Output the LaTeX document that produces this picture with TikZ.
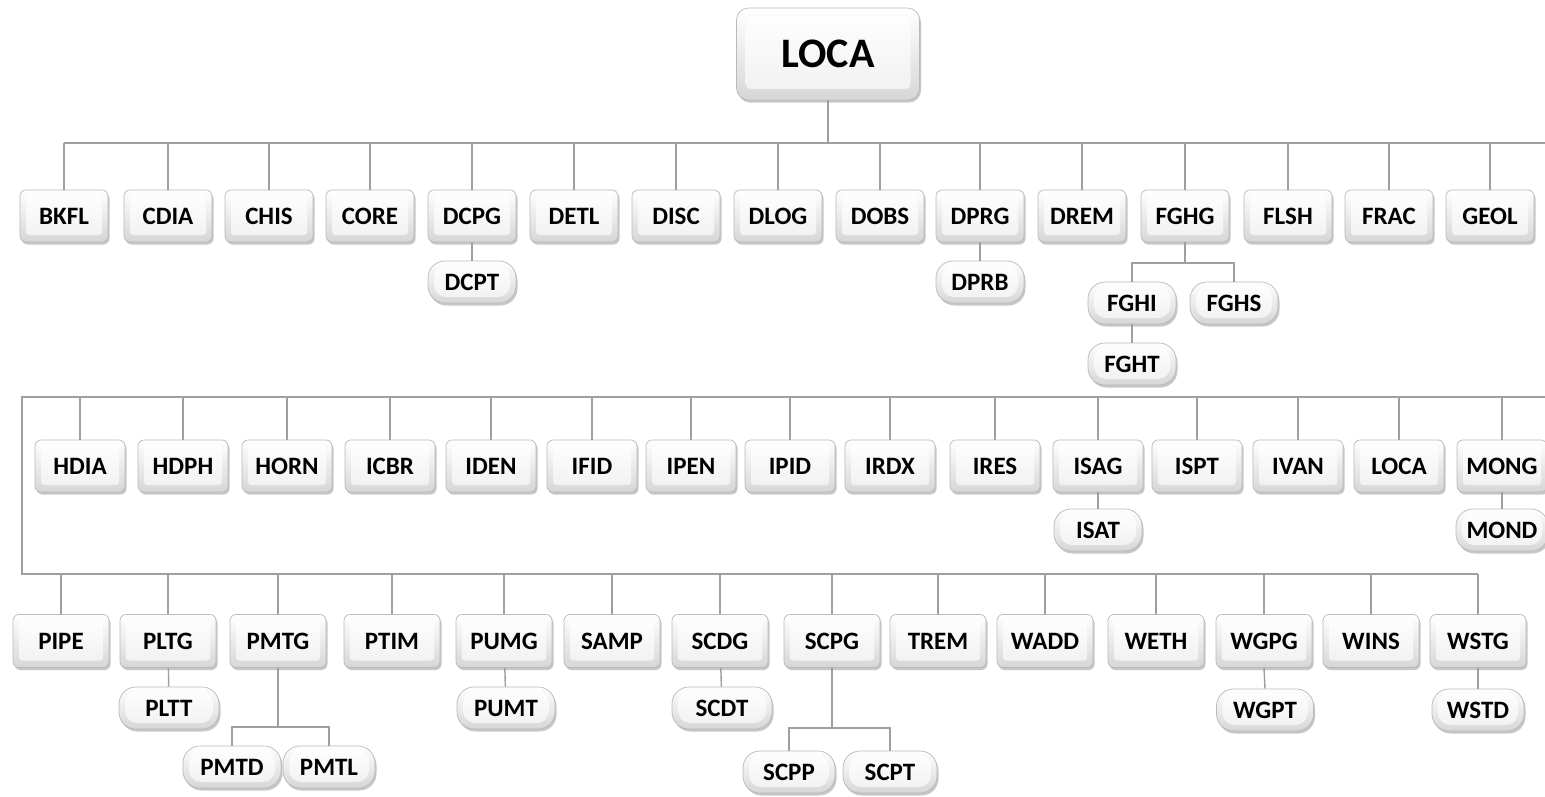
\documentclass[tikz,border=0pt]{standalone}
\usepackage{fontspec}
\setmainfont{Carlito}
\usetikzlibrary{shadows}
\tikzset{
  boxbase/.style={draw=gray!55, line width=0.7pt, top color=white, bottom color=gray!32,
    font=\fontsize{25}{27}\selectfont\bfseries, text height=16pt, text depth=0pt,
    inner sep=0pt, align=center,
    drop shadow={shadow xshift=1.5pt, shadow yshift=-2.5pt, fill=black, opacity=0.22},
    path picture={\shade[top color=white, bottom color=gray!12, rounded corners=3pt]
      ([shift={(6pt,-5pt)}]path picture bounding box.north west) rectangle
      ([shift={(-6pt,7pt)}]path picture bounding box.south east);}},
  boxa/.style={boxbase, rounded corners=6pt, minimum width=88pt, minimum height=52pt},
  boxb/.style={boxbase, rounded corners=6pt, minimum width=90pt, minimum height=52pt},
  boxc/.style={boxbase, rounded corners=6pt, minimum width=96pt, minimum height=53pt},
  subbox/.style={boxbase, rounded corners=17pt, minimum width=#1, minimum height=42pt,
    path picture={\shade[top color=white, bottom color=gray!12, rounded corners=12pt]
      ([shift={(6pt,-4pt)}]path picture bounding box.north west) rectangle
      ([shift={(-6pt,6pt)}]path picture bounding box.south east);}},
  subbox/.default=88pt,
  rootbox/.style={boxbase, rounded corners=12pt, minimum width=183pt, minimum height=92pt,
    font=\fontsize{42}{44}\selectfont\bfseries, text height=27pt,
    path picture={\shade[top color=white, bottom color=gray!12, rounded corners=5pt]
      ([shift={(9pt,-8pt)}]path picture bounding box.north west) rectangle
      ([shift={(-9pt,11pt)}]path picture bounding box.south east);}},
  conn/.style={draw=gray!75, line width=1.4pt}
}
\begin{document}
\begin{tikzpicture}[x=1pt,y=-1pt]
\useasboundingbox (0,0) rectangle (1545,796);
\clip (0,0) rectangle (1545,796);
\fill[white] (0,0) rectangle (1545,796);

% bus coordinates
\coordinate (bus1) at (828,143);
\coordinate (bus1r) at (1560,143);
\coordinate (bus2l) at (22,397);
\coordinate (bus2r) at (1560,397);
\coordinate (bus3l) at (22,574);

% root
\node[rootbox] (root) at (828,54) {LOCA};

% row 1
\foreach \n/\t/\x in {bkfl/BKFL/64, cdia/CDIA/168, chis/CHIS/269, core/CORE/370, dcpg/DCPG/472,
  detl/DETL/574, disc/DISC/676, dlog/DLOG/778, dobs/DOBS/880, dprg/DPRG/980,
  drem/DREM/1082, fghg/FGHG/1185, flsh/FLSH/1288, frac/FRAC/1389, geol/GEOL/1490}
  {\node[boxa] (\n) at (\x,216) {\t};}
\node[subbox] (dcpt) at (472,282) {DCPT};
\node[subbox] (dprb) at (980,282) {DPRB};
\node[subbox] (fghi) at (1132,303) {FGHI};
\node[subbox] (fghs) at (1234,303) {FGHS};
\node[subbox] (fght) at (1132,364) {FGHT};
\coordinate (fghj) at (1185,263);

% row 2
\foreach \n/\t/\x in {hdia/HDIA/80, hdph/HDPH/183, horn/HORN/287, icbr/ICBR/390, iden/IDEN/491,
  ifid/IFID/592, ipen/IPEN/691, ipid/IPID/790, irdx/IRDX/890, ires/IRES/995,
  isag/ISAG/1098, ispt/ISPT/1197, ivan/IVAN/1298, loca2/LOCA/1399, mong/MONG/1502}
  {\node[boxb] (\n) at (\x,466) {\t};}
\node[subbox=88pt] (isat) at (1098,530) {ISAT};
\node[subbox=92pt] (mond) at (1502,530) {MOND};

% row 3
\foreach \n/\t/\x in {pipe/PIPE/61, pltg/PLTG/168, pmtg/PMTG/278, ptim/PTIM/392, pumg/PUMG/504,
  samp/SAMP/612, scdg/SCDG/720, scpg/SCPG/832, trem/TREM/938, wadd/WADD/1045,
  weth/WETH/1156, wgpg/WGPG/1264, wins/WINS/1371, wstg/WSTG/1478}
  {\node[boxc] (\n) at (\x,641) {\t};}
\node[subbox=100pt] (pltt) at (169,708) {PLTT};
\node[subbox=98pt] (pumt) at (506,708) {PUMT};
\node[subbox=100pt] (scdt) at (722,708) {SCDT};
\node[subbox=97pt] (wgpt) at (1265,710) {WGPT};
\node[subbox=92pt] (wstd) at (1478,710) {WSTD};
\node[subbox=98pt] (pmtd) at (232,767) {PMTD};
\node[subbox=92pt] (pmtl) at (329,767) {PMTL};
\node[subbox=92pt] (scpp) at (789,772) {SCPP};
\node[subbox=94pt] (scpt) at (890,772) {SCPT};
\coordinate (pmtj) at (278,727);
\coordinate (scpj) at (832,728);

% connectors
\draw[conn] (root.south) -- (bus1);
\draw[conn] (bkfl.north |- bus1) -- (bus1r);
\foreach \n in {bkfl,cdia,chis,core,dcpg,detl,disc,dlog,dobs,dprg,drem,fghg,flsh,frac,geol}
  {\draw[conn] (\n.north) -- (\n.north |- bus1);}
\draw[conn] (dcpg) -- (dcpt);
\draw[conn] (dprg) -- (dprb);
\draw[conn] (fghg.south) -- (fghj);
\draw[conn] (fghi.north) |- (fghj) -| (fghs.north);
\draw[conn] (fghi) -- (fght);

\draw[conn] (bus2r) -- (bus2l) -- (bus3l) -- (wstg.north |- bus3l);
\foreach \n in {hdia,hdph,horn,icbr,iden,ifid,ipen,ipid,irdx,ires,isag,ispt,ivan,loca2,mong}
  {\draw[conn] (\n.north) -- (\n.north |- bus2l);}
\draw[conn] (isag) -- (isat);
\draw[conn] (mong.south) -- (mond.north);

\foreach \n in {pipe,pltg,pmtg,ptim,pumg,samp,scdg,scpg,trem,wadd,weth,wgpg,wins,wstg}
  {\draw[conn] (\n.north) -- (\n.north |- bus3l);}
\draw[conn] (pltg) -- (pltt);
\draw[conn] (pumg) -- (pumt);
\draw[conn] (scdg) -- (scdt);
\draw[conn] (wgpg.south) -- (wgpt.north);
\draw[conn] (wstg) -- (wstd);
\draw[conn] (pmtg.south) -- (pmtj);
\draw[conn] (pmtd.north) |- (pmtj) -| (pmtl.north);
\draw[conn] (scpg.south) -- (scpj);
\draw[conn] (scpp.north) |- (scpj) -| (scpt.north);
\end{tikzpicture}
\end{document}
